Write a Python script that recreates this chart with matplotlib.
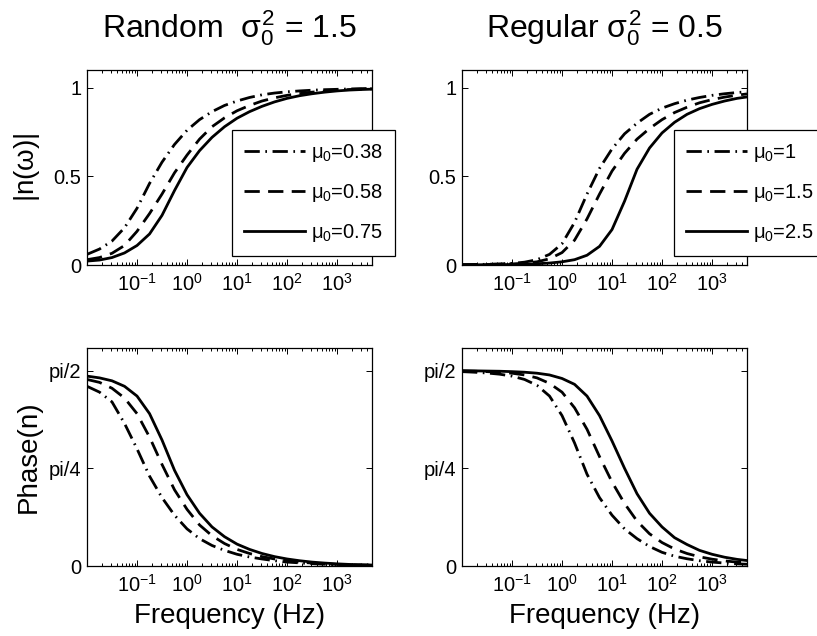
import numpy as np
import matplotlib
matplotlib.use('Agg')
import matplotlib.pyplot as plt
from matplotlib.ticker import FixedLocator, LogLocator, NullFormatter

plt.rcParams['font.family'] = ['Liberation Sans', 'DejaVu Sans']
plt.rcParams['mathtext.fontset'] = 'custom'
plt.rcParams['mathtext.rm'] = 'Liberation Sans'
plt.rcParams['mathtext.it'] = 'Liberation Sans'
plt.rcParams['mathtext.bf'] = 'Liberation Sans:bold'
plt.rcParams['lines.scale_dashes'] = False

# frequency grid (Hz), quarter decades
freq_hz = [0.01, 0.0178, 0.0316, 0.0562, 0.1, 0.178, 0.316, 0.562, 1, 1.78, 3.16, 5.62,
           10, 17.8, 31.6, 56.2, 100, 178, 316, 562, 1000, 1780, 3160, 5000]

# left column: random, sigma0^2 = 1.5
random_labels = ['0.38', '0.58', '0.75']
random_mag_038 = [0.06, 0.09, 0.135, 0.21, 0.32, 0.46, 0.58, 0.68, 0.76, 0.82, 0.865, 0.90,
                  0.925, 0.945, 0.96, 0.97, 0.977, 0.982, 0.986, 0.989, 0.991, 0.993, 0.995, 0.996]
random_mag_058 = [0.03, 0.042, 0.066, 0.11, 0.19, 0.29, 0.40, 0.52, 0.62, 0.71, 0.78, 0.83,
                  0.87, 0.90, 0.925, 0.943, 0.957, 0.967, 0.975, 0.981, 0.986, 0.99, 0.992, 0.994]
random_mag_075 = [0.022, 0.028, 0.042, 0.068, 0.11, 0.175, 0.28, 0.42, 0.55, 0.645, 0.72, 0.78,
                  0.828, 0.865, 0.895, 0.92, 0.94, 0.955, 0.966, 0.975, 0.982, 0.987, 0.99, 0.992]
# phase given as fraction of pi/2
random_ph_038 = [0.92, 0.89, 0.84, 0.73, 0.60, 0.46, 0.35, 0.26, 0.19, 0.14, 0.105, 0.08,
                 0.06, 0.046, 0.036, 0.027, 0.02, 0.016, 0.012, 0.009, 0.007, 0.005, 0.004, 0.003]
random_ph_058 = [0.955, 0.94, 0.91, 0.86, 0.78, 0.66, 0.52, 0.39, 0.29, 0.21, 0.155, 0.115,
                 0.085, 0.064, 0.048, 0.036, 0.027, 0.02, 0.015, 0.011, 0.008, 0.006, 0.005, 0.004]
random_ph_075 = [0.972, 0.963, 0.948, 0.92, 0.87, 0.78, 0.645, 0.49, 0.365, 0.27, 0.20, 0.15,
                 0.112, 0.085, 0.064, 0.048, 0.036, 0.027, 0.02, 0.015, 0.011, 0.008, 0.006, 0.005]

# right column: regular, sigma0^2 = 0.5
regular_labels = ['1', '1.5', '2.5']
regular_mag_1 = [0.002, 0.003, 0.004, 0.006, 0.009, 0.016, 0.03, 0.06, 0.12, 0.24, 0.40, 0.545,
                 0.655, 0.74, 0.80, 0.85, 0.885, 0.91, 0.93, 0.945, 0.957, 0.966, 0.973, 0.977]
regular_mag_15 = [0.001, 0.002, 0.003, 0.004, 0.006, 0.01, 0.018, 0.035, 0.07, 0.14, 0.26, 0.40,
                  0.53, 0.63, 0.71, 0.77, 0.82, 0.86, 0.89, 0.915, 0.933, 0.947, 0.958, 0.965]
regular_mag_25 = [0.001, 0.001, 0.002, 0.002, 0.003, 0.005, 0.007, 0.011, 0.018, 0.03, 0.055, 0.105,
                  0.20, 0.36, 0.54, 0.66, 0.745, 0.805, 0.85, 0.882, 0.906, 0.925, 0.94, 0.948]
regular_ph_1 = [0.995, 0.992, 0.988, 0.982, 0.972, 0.955, 0.925, 0.87, 0.77, 0.63, 0.47, 0.35,
                0.26, 0.19, 0.14, 0.10, 0.07, 0.05, 0.037, 0.027, 0.02, 0.015, 0.011, 0.009]
regular_ph_15 = [0.998, 0.997, 0.995, 0.992, 0.987, 0.978, 0.963, 0.935, 0.89, 0.81, 0.70, 0.56,
                 0.43, 0.32, 0.23, 0.165, 0.12, 0.087, 0.064, 0.047, 0.035, 0.026, 0.02, 0.016]
regular_ph_25 = [1.0, 0.999, 0.998, 0.997, 0.995, 0.992, 0.987, 0.978, 0.96, 0.93, 0.87, 0.77,
                 0.64, 0.50, 0.37, 0.27, 0.20, 0.145, 0.11, 0.08, 0.06, 0.045, 0.034, 0.028]

styles = [(0, (11, 4, 1.2, 4)), (0, (11, 6)), '-']
LW = 2.0
FS = 14.5

fig = plt.figure(figsize=(8.17, 6.36), dpi=100)
W, H = 817.0, 636.0


def make_ax(left, top, right, bottom):
    return fig.add_axes([left / W, 1 - bottom / H, (right - left) / W, (bottom - top) / H])


def style_ax(ax):
    ax.set_xscale('log')
    ax.set_xlim(0.01, 5000)
    ax.xaxis.set_major_locator(FixedLocator([0.1, 1, 10, 100, 1000]))
    ax.xaxis.set_minor_locator(LogLocator(base=10, subs=np.arange(2, 10), numticks=20))
    ax.xaxis.set_minor_formatter(NullFormatter())
    ax.tick_params(which='both', direction='in', top=True, right=True, labelsize=FS, width=0.7)
    ax.tick_params(which='major', length=4)
    ax.tick_params(which='minor', length=2)
    ax.tick_params(axis='x', pad=6)
    ax.tick_params(axis='y', pad=4)
    for sp in ax.spines.values():
        sp.set_linewidth(0.9)


ax_tl = make_ax(87, 70, 372, 265)
ax_tr = make_ax(462, 70, 747, 265)
ax_bl = make_ax(87, 348, 372, 566)
ax_br = make_ax(462, 348, 747, 566)

panels = [
    (ax_tl, [random_mag_038, random_mag_058, random_mag_075], random_labels, False),
    (ax_tr, [regular_mag_1, regular_mag_15, regular_mag_25], regular_labels, False),
    (ax_bl, [random_ph_038, random_ph_058, random_ph_075], random_labels, True),
    (ax_br, [regular_ph_1, regular_ph_15, regular_ph_25], regular_labels, True),
]

for ax, series, labels, is_phase in panels:
    style_ax(ax)
    for vals, ls, lab in zip(series, styles, labels):
        y = np.array(vals) * np.pi / 2 if is_phase else np.array(vals)
        ax.plot(freq_hz, y, color='black', lw=LW, linestyle=ls, label=r'$\mu_0$=' + lab)
    if is_phase:
        ax.set_ylim(0, 1.116 * np.pi / 2)
        ax.set_yticks([0, np.pi / 4, np.pi / 2])
        ax.set_yticklabels(['0', 'pi/4', 'pi/2'])
        ax.set_xlabel('Frequency (Hz)', fontsize=20)
        ax.xaxis.set_label_coords(0.5, -0.17)
    else:
        ax.set_ylim(0, 1.1)
        ax.set_yticks([0, 0.5, 1])
        ax.set_yticklabels(['0', '0.5', '1'])

ax_tl.set_ylabel(r'|n($\omega$)|', fontsize=20)
ax_tl.yaxis.set_label_coords(-0.158, 0.5)
ax_bl.set_ylabel('Phase(n)', fontsize=20)
ax_bl.yaxis.set_label_coords(-0.158, 0.5)

ax_tl.set_title(r'Random  $\sigma_0^2$ = 1.5', fontsize=23, pad=23.5)
ax_tr.set_title(r'Regular $\sigma_0^2$ = 0.5', fontsize=23, pad=23.5)

for ax, anchor in [(ax_tl, (0.509, 0.692)), (ax_tr, (0.744, 0.692))]:
    leg = ax.legend(loc='upper left', bbox_to_anchor=anchor, borderaxespad=0, fontsize=FS,
                    handlelength=3.0, handletextpad=0.3, labelspacing=0.88, borderpad=0.6,
                    fancybox=False, framealpha=1, edgecolor='black')
    leg.get_frame().set_linewidth(0.9)
    leg.set_zorder(10)

fig.savefig('out.png', dpi=100)
